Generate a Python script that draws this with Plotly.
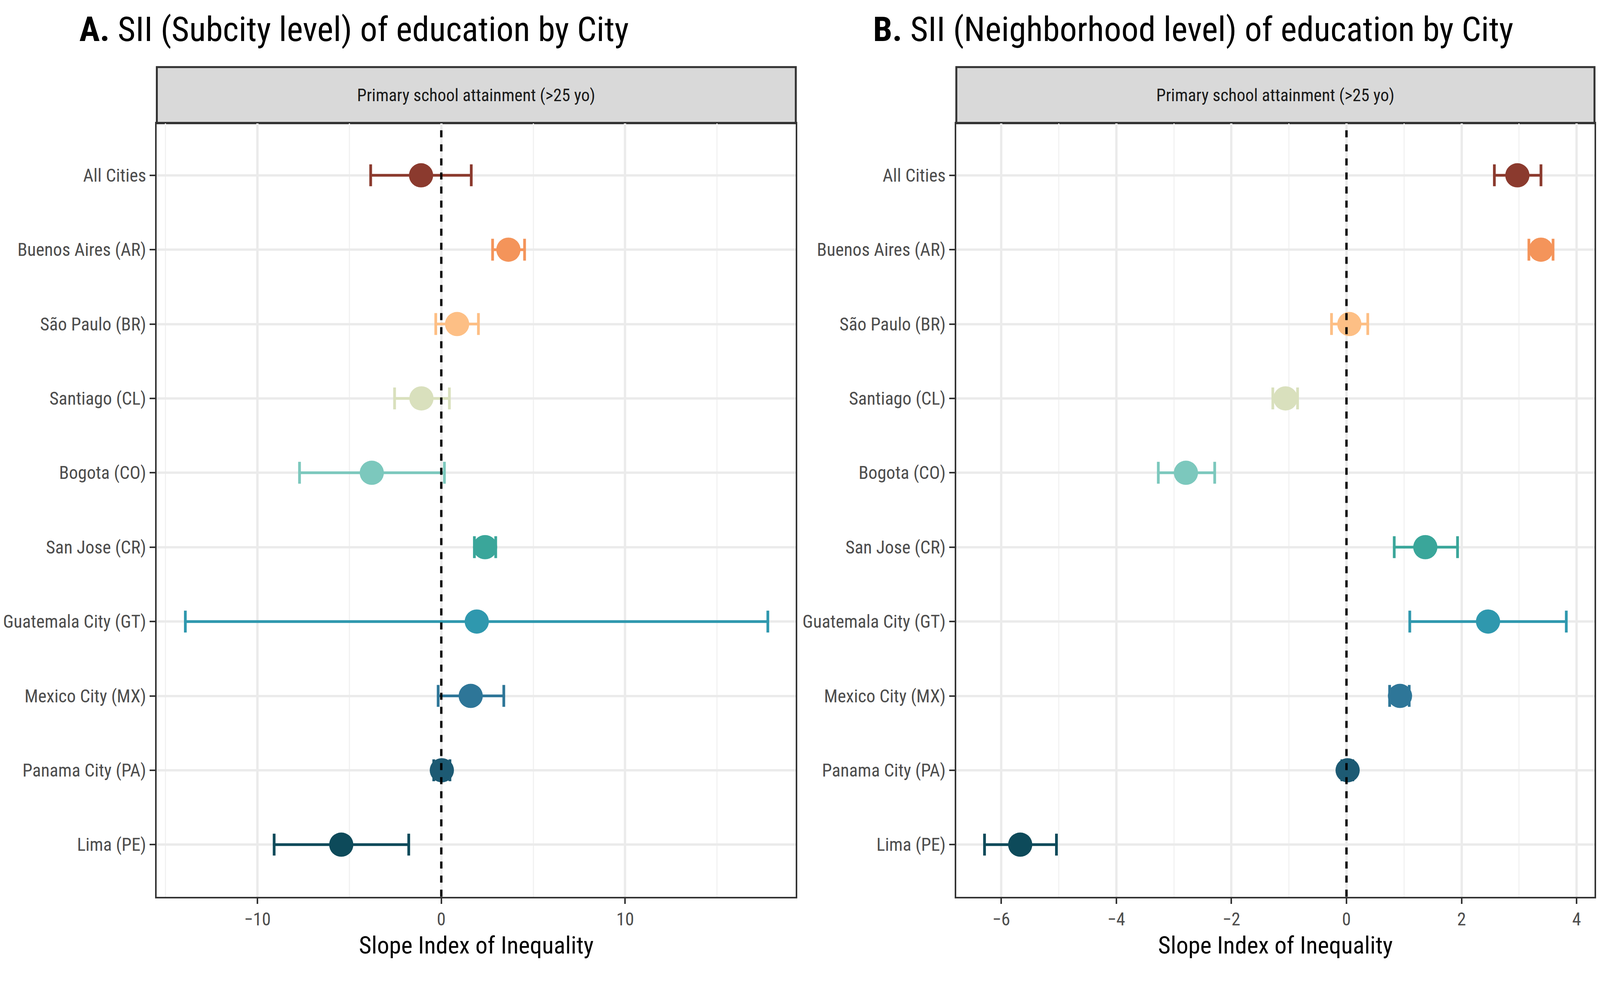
import plotly.graph_objects as go

cities = ["All Cities", "Buenos Aires (AR)", "São Paulo (BR)", "Santiago (CL)", "Bogota (CO)",
          "San Jose (CR)", "Guatemala City (GT)", "Mexico City (MX)", "Panama City (PA)", "Lima (PE)"]
colors = ["#8B3A2E", "#F4945A", "#FDBF85", "#D9E0BD", "#7CC8BD",
          "#3AA69A", "#2F98AE", "#2E7698", "#1D5A73", "#0D4A5A"]

a_est = [-1.10, 3.65, 0.86, -1.08, -3.78, 2.38, 1.93, 1.60, 0.03, -5.44]
a_lo = [-3.84, 2.79, -0.30, -2.54, -7.71, 1.80, -13.92, -0.17, -0.41, -9.09]
a_hi = [1.63, 4.53, 2.02, 0.44, 0.17, 2.96, 17.76, 3.40, 0.47, -1.77]

b_est = [2.97, 3.38, 0.05, -1.06, -2.79, 1.37, 2.46, 0.93, 0.02, -5.67]
b_lo = [2.57, 3.17, -0.26, -1.28, -3.27, 0.83, 1.10, 0.75, -0.08, -6.29]
b_hi = [3.38, 3.59, 0.37, -0.85, -2.29, 1.93, 3.82, 1.09, 0.11, -5.04]

FONT = "Roboto Condensed, Liberation Sans Narrow, Roboto, sans-serif"
fig = go.Figure()

for est, lo, hi, xa, ya in [(a_est, a_lo, a_hi, "x", "y"), (b_est, b_lo, b_hi, "x2", "y2")]:
    for i, c in enumerate(cities):
        fig.add_trace(go.Scatter(
            x=[est[i]], y=[c], mode="markers", xaxis=xa, yaxis=ya,
            marker=dict(size=62, color=colors[i]),
            error_x=dict(type="data", symmetric=False, array=[hi[i] - est[i]],
                         arrayminus=[est[i] - lo[i]], color=colors[i], thickness=7, width=28),
            showlegend=False))

axis_common = dict(showline=True, linecolor="#333333", linewidth=4, mirror=True,
                   ticks="outside", ticklen=14, tickwidth=4, tickcolor="#333333",
                   tickfont=dict(size=46, color="#4d4d4d", family=FONT),
                   showgrid=True, gridcolor="#EBEBEB", gridwidth=6, zeroline=False)
ycat = dict(categoryorder="array", categoryarray=cities[::-1], range=[-0.7, 9.7])
xtitle = dict(text="Slope Index of Inequality", font=dict(size=62, color="black", family=FONT), standoff=20)

fig.update_layout(
    autosize=True, plot_bgcolor="white", paper_bgcolor="white",
    margin=dict(l=0, r=0, t=0, b=0),
    xaxis=dict(domain=[0.094, 0.496], range=[-15.47, 19.28], tickvals=[-10, 0, 10],
               ticktext=["\u221210", "0", "10"], anchor="y",
               minor=dict(tickvals=[-15, -5, 5, 15], showgrid=True, gridcolor="#F2F2F2", gridwidth=3, ticks=""),
               title=xtitle, **axis_common),
    yaxis=dict(domain=[0.0926, 0.878], anchor="x", **ycat, **axis_common),
    xaxis2=dict(domain=[0.597, 0.9985], range=[-6.78, 4.31], tickvals=[-6, -4, -2, 0, 2, 4],
                ticktext=["\u22126", "\u22124", "\u22122", "0", "2", "4"], anchor="y2",
                minor=dict(tickvals=[-5, -3, -1, 1, 3], showgrid=True, gridcolor="#F2F2F2", gridwidth=3, ticks=""),
                title=xtitle, **axis_common),
    yaxis2=dict(domain=[0.0926, 0.878], anchor="x2", **ycat, **axis_common),
)

for xa, x0, x1 in [("x", 0.094, 0.496), ("x2", 0.597, 0.9985)]:
    fig.add_shape(type="line", xref=xa, yref="y domain" if xa == "x" else "y2 domain",
                  x0=0, x1=0, y0=0, y1=1, line=dict(color="black", width=6, dash="dash"))
    fig.add_shape(type="rect", xref="paper", yref="paper", x0=x0, x1=x1, y0=0.878, y1=0.935,
                  fillcolor="#D9D9D9", line=dict(color="#333333", width=5), layer="below")
    fig.add_annotation(xref="paper", yref="paper", x=(x0 + x1) / 2, y=0.9065, showarrow=False,
                       xanchor="center", yanchor="middle",
                       text="Primary school attainment (>25 yo)",
                       font=dict(size=44, color="#1a1a1a", family=FONT))

fig.add_annotation(xref="paper", yref="paper", x=0.0447, y=0.995, xanchor="left", yanchor="top",
                   showarrow=False, text="<b>A.</b> SII (Subcity level) of education by City",
                   font=dict(size=88, color="black", family=FONT))
fig.add_annotation(xref="paper", yref="paper", x=0.544, y=0.995, xanchor="left", yanchor="top",
                   showarrow=False, text="<b>B.</b> SII (Neighborhood level) of education by City",
                   font=dict(size=88, color="black", family=FONT))

fig.write_html("out.html", default_width="100%", default_height="100%", config={"responsive": True})
